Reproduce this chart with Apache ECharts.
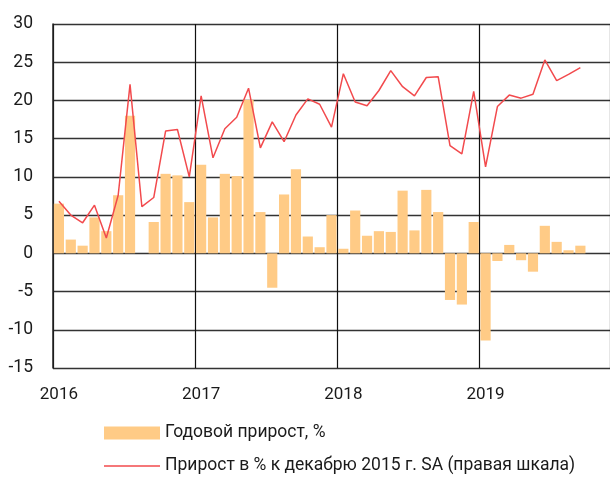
<!DOCTYPE html>
<html>
<head>
<meta charset="utf-8">
<script src="https://cdn.jsdelivr.net/npm/echarts@6/dist/echarts.min.js"></script>
<style>
    html, body { margin: 0; padding: 0; background: #fff; }
    #chart { width: 610px; height: 478px; }
</style>
</head>
<body>
<div id="chart"></div>
<script>
// месяцы: янв 2016 - ноя 2019
var months = [];
for (var y = 2016; y <= 2019; y++) {
    for (var m = 1; m <= 12; m++) {
        if (y == 2019 && m > 11) break;
        months.push(y + '-' + (m < 10 ? '0' + m : m));
    }
}

// Годовой прирост, %
var yearGrowth = [
    6.5, 1.8, 1.0, 4.7, 2.9, 7.6, 18.0, 0, 4.1, 10.4, 10.2, 6.7,
    11.6, 4.7, 10.4, 10.1, 20.1, 5.4, -4.5, 7.7, 11.0, 2.2, 0.8, 5.0,
    0.6, 5.6, 2.3, 2.9, 2.8, 8.2, 3.0, 8.3, 5.4, -6.1, -6.7, 4.1,
    -11.4, -1.0, 1.1, -0.9, -2.4, 3.6, 1.5, 0.4, 1.0
];

// Прирост в % к декабрю 2015 г. SA
var sinceDec2015 = [
    6.8, 5.0, 4.0, 6.3, 2.0, 7.6, 22.1, 6.1, 7.3, 16.0, 16.2, 10.0,
    20.6, 12.5, 16.3, 17.8, 21.6, 13.8, 17.2, 14.6, 18.1, 20.2, 19.5, 16.5,
    23.5, 19.8, 19.3, 21.3, 23.9, 21.8, 20.6, 23.0, 23.1, 14.1, 13.0, 21.2,
    11.3, 19.2, 20.7, 20.3, 20.8, 25.3, 22.6, 23.4, 24.3
];

var yearLabels = ['2016', '2017', '2018', '2019'];

var chart = echarts.init(document.getElementById('chart'));
var txtFont = 'Roboto';
var option = {
    backgroundColor: '#FFFFFF',
    animation: false,
    grid: {
        left: 53,
        right: -1,
        top: 24,
        bottom: 110
    },
    legend: {
        orient: 'vertical',
        left: 104,
        top: 424,
        padding: 0,
        itemWidth: 56,
        itemHeight: 13,
        itemGap: 15,
        symbolKeepAspect: true,
        textStyle: { fontFamily: txtFont, fontSize: 17.5, color: '#1a1a1a' },
        data: [
            { name: 'Годовой прирост, %', icon: 'rect' },
            {
                name: 'Прирост в % к декабрю 2015 г. SA (правая шкала)',
                icon: 'path://M0,0 L56,0 L56,1.5 L0,1.5 Z'
            }
        ]
    },
    xAxis: {
        type: 'category',
        data: months,
        boundaryGap: true,
        axisLine: { show: false },
        axisTick: { show: false },
        axisLabel: {
            interval: 11,
            margin: 18,
            fontFamily: txtFont,
            fontSize: 17,
            color: '#1a1a1a',
            formatter: function (v) {
                var yr = v.slice(0, 4);
                return yearLabels.indexOf(yr) >= 0 ? yr : '';
            }
        },
        splitLine: {
            show: true,
            interval: 11,
            lineStyle: { color: '#111', width: 1.2 }
        }
    },
    yAxis: [
        {
            type: 'value',
            min: -15,
            max: 30,
            interval: 5,
            axisLine: { show: true, lineStyle: { color: '#222', width: 1.5 } },
            axisTick: { show: false },
            axisLabel: {
                margin: 20,
                fontFamily: txtFont,
                fontSize: 17.5,
                color: '#1a1a1a'
            },
            splitLine: { lineStyle: { color: '#333', width: 1.3 } }
        },
        {
            type: 'value',
            min: -15,
            max: 30,
            interval: 5,
            show: false,
            splitLine: { show: false }
        }
    ],
    series: [
        {
            name: 'Годовой прирост, %',
            type: 'bar',
            data: yearGrowth,
            barCategoryGap: '14%',
            itemStyle: { color: '#FFCB86' }
        },
        {
            name: 'Прирост в % к декабрю 2015 г. SA (правая шкала)',
            type: 'line',
            yAxisIndex: 1,
            data: sinceDec2015,
            symbol: 'none',
            lineStyle: { color: '#F24A4D', width: 1.5 },
            itemStyle: { color: '#F24A4D' }
        }
    ]
};
chart.setOption(option);
</script>
</body>
</html>
